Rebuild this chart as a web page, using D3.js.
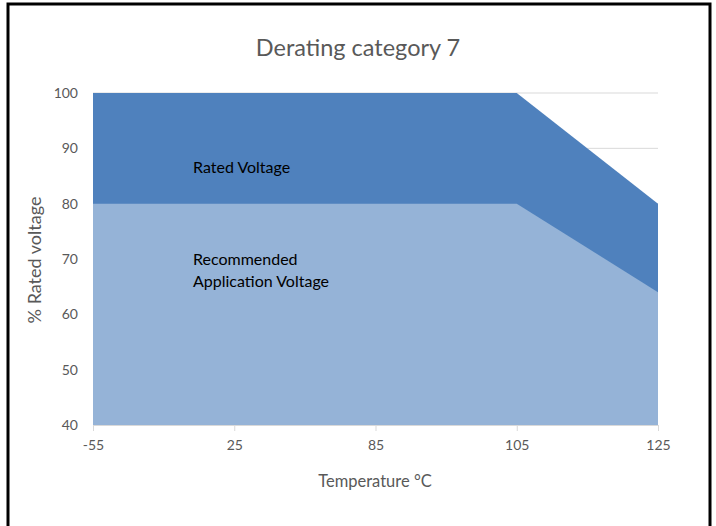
<!DOCTYPE html>
<html><head><meta charset="utf-8">
<script src="https://cdn.jsdelivr.net/npm/d3@7"></script>
<style>body{margin:0;background:#fff}svg{display:block}</style>
</head><body>
<svg id="c" width="716" height="526"></svg>
<script>
const categories = ["-55", "25", "85", "105", "125"];
const ratedVoltage = [100, 100, 100, 100, 80];
const recommendedVoltage = [80, 80, 80, 80, 64];
const yTicks = [40, 50, 60, 70, 80, 90, 100];

const svg = d3.select("#c");
const font = "Lato, 'Open Sans', sans-serif";
svg.append("rect").attr("x", 8).attr("y", 4).attr("width", 702).attr("height", 540)
  .attr("fill", "#fff").attr("stroke", "#000").attr("stroke-width", 3);

const x = d3.scalePoint().domain(categories).range([93, 658]);
const y = d3.scaleLinear().domain([40, 100]).range([425, 93]);

// gridlines
svg.append("g").selectAll("line").data(yTicks.slice(1)).join("line")
  .attr("x1", 93).attr("x2", 658).attr("y1", d => y(d)).attr("y2", d => y(d))
  .attr("stroke", "#d9d9d9").attr("stroke-width", 1);

const data = categories.map((c, i) => ({c, r: ratedVoltage[i], a: recommendedVoltage[i]}));
const area = key => d3.area().x(d => x(d.c)).y0(y(40)).y1(d => y(d[key]));
svg.append("path").datum(data).attr("d", area("r")).attr("fill", "#4f81bd");
svg.append("path").datum(data).attr("d", area("a")).attr("fill", "#95b3d7");

// x axis
const xa = svg.append("g").attr("transform", `translate(0,${y(40)})`)
  .call(d3.axisBottom(x).tickSize(6).tickPadding(9));
xa.select(".domain").attr("stroke", "#d9d9d9").attr("d", `M93,0.5H658`);
xa.selectAll(".tick line").attr("stroke", "#d9d9d9");
xa.selectAll("text").attr("fill", "#595959").style("font-family", font).style("font-size", "14px");

// y axis
const ya = svg.append("g").attr("transform", `translate(78,0)`)
  .call(d3.axisLeft(y).tickValues(yTicks).tickSize(0).tickPadding(0));
ya.select(".domain").remove();
ya.selectAll("text").attr("fill", "#595959").style("font-family", font).style("font-size", "14px");

// titles
svg.append("text").attr("x", 358).attr("y", 56).attr("text-anchor", "middle")
  .attr("fill", "#595959").style("font-family", font).style("font-size", "23.5px").text("Derating category 7");
svg.append("text").attr("x", 375).attr("y", 487).attr("text-anchor", "middle")
  .attr("fill", "#595959").style("font-family", font).style("font-size", "16.5px").text("Temperature °C");
svg.append("text").attr("transform", "translate(41,260) rotate(-90)").attr("text-anchor", "middle")
  .attr("fill", "#595959").style("font-family", font).style("font-size", "18px").text("% Rated voltage");

// labels
const lab = (t, yy) => svg.append("text").attr("x", 193).attr("y", yy)
  .attr("fill", "#000").style("font-family", font).style("font-size", "16px").text(t);
lab("Rated Voltage", 173);
lab("Recommended", 265);
lab("Application Voltage", 287);
</script>
</body></html>
